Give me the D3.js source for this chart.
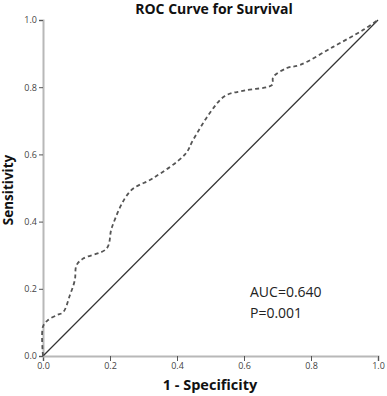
<!DOCTYPE html>
<html><head><meta charset="utf-8">
<script src="https://cdn.jsdelivr.net/npm/d3@7"></script>
<style>body{margin:0;background:#fff;} svg{display:block;}</style>
</head><body>
<script>
const fpr = [0, 0, 0.015, 0.042, 0.06, 0.08, 0.095, 0.10, 0.12, 0.19, 0.206, 0.26, 0.33, 0.424, 0.448, 0.50, 0.543, 0.60, 0.684, 0.687, 0.728, 0.767, 0.866, 0.955, 1.0];
const tpr = [0, 0.088, 0.107, 0.122, 0.13, 0.18, 0.226, 0.27, 0.29, 0.32, 0.384, 0.49, 0.53, 0.60, 0.643, 0.726, 0.774, 0.79, 0.807, 0.83, 0.857, 0.866, 0.92, 0.97, 1.0];
const refX = [0, 1];
const refY = [0, 1];
const tickVals = [0, 0.2, 0.4, 0.6, 0.8, 1.0];
const titleText = "ROC Curve for Survival";
const xLabel = "1 - Specificity";
const yLabel = "Sensitivity";
const annotations = ["AUC=0.640", "P=0.001"];

const W = 387, H = 396;
const svg = d3.select("body").append("svg").attr("width", W).attr("height", H);
const x = d3.scaleLinear().domain([0, 1]).range([43, 378]);
const y = d3.scaleLinear().domain([0, 1]).range([356, 20]);
const font = "'Open Sans', 'DejaVu Sans', sans-serif";

const xAxis = svg.append("g").attr("transform", `translate(0,${y(0)})`)
  .call(d3.axisBottom(x).tickValues(tickVals).tickFormat(d3.format(".1f")).tickSize(5).tickPadding(2));
const yAxis = svg.append("g").attr("transform", `translate(${x(0)},0)`)
  .call(d3.axisLeft(y).tickValues(tickVals).tickFormat(d3.format(".1f")).tickSize(4).tickPadding(2));
[xAxis, yAxis].forEach(g => {
  g.select(".domain").attr("stroke", "#b8b8b8").attr("stroke-width", 2);
  g.selectAll(".tick line").attr("stroke", "#555").attr("stroke-width", 1);
  g.selectAll(".tick text").attr("fill", "#444").style("font-family", font).style("font-size", "9px");
});

svg.append("path")
  .datum(refX.map((d, i) => [d, refY[i]]))
  .attr("fill", "none").attr("stroke", "#333").attr("stroke-width", 1.2)
  .attr("d", d3.line().x(d => x(d[0])).y(d => y(d[1])));

svg.append("path")
  .datum(fpr.map((d, i) => [d, tpr[i]]))
  .attr("fill", "none").attr("stroke", "#555").attr("stroke-width", 1.8)
  .attr("stroke-dasharray", "4,3")
  .attr("d", d3.line().x(d => x(d[0])).y(d => y(d[1])).curve(d3.curveCatmullRom.alpha(0.5)));

svg.append("text").attr("x", 214).attr("y", 14).attr("text-anchor", "middle")
  .style("font-family", font).style("font-weight", "bold").style("font-size", "14px").attr("fill", "#111")
  .text(titleText);
svg.append("text").attr("x", 210).attr("y", 390).attr("text-anchor", "middle")
  .style("font-family", font).style("font-weight", "bold").style("font-size", "14.5px").attr("fill", "#111")
  .text(xLabel);
svg.append("text").attr("transform", "translate(13,190) rotate(-90)").attr("text-anchor", "middle")
  .style("font-family", font).style("font-weight", "bold").style("font-size", "13.5px").attr("fill", "#111")
  .text(yLabel);
annotations.forEach((t, i) => {
  svg.append("text").attr("x", 250).attr("y", 297 + i * 21)
    .style("font-family", font).style("font-size", "14px").attr("fill", "#222").text(t);
});
</script>
</body></html>
